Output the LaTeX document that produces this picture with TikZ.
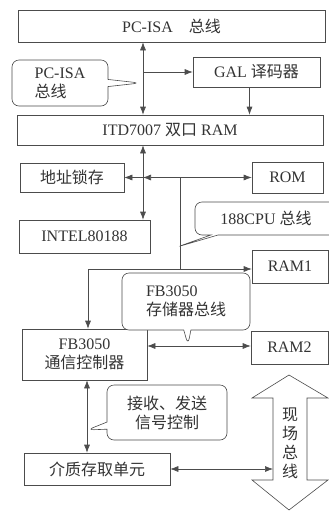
\documentclass[tikz,border=0pt]{standalone}
\usepackage{fontspec}
\setmainfont{Liberation Serif}
\newfontfamily\cjk{Noto Sans CJK SC}
\usepackage{tikz}
\usetikzlibrary{arrows.meta, shapes.callouts}
\tikzset{
  box/.style={draw=black!70, line width=0.6pt, inner sep=1pt, text=black!80,
    font=\fontsize{16}{19}\selectfont},
  bubble/.style={rectangle callout, rounded corners=7pt, draw=black!70, line width=0.6pt,
    fill=white, text=black!80, align=left, font=\fontsize{16}{19}\selectfont},
  link/.style={draw=black!70, line width=0.6pt},
  arrow/.style={link, -{Latex[length=8pt,width=6pt]}},
  dual/.style={link, {Latex[length=8pt,width=6pt]}-{Latex[length=8pt,width=6pt]}}
}

\begin{document}
\begin{tikzpicture}[x=1pt, y=-1pt]
		\useasboundingbox (0,0) rectangle (329,512);
		% 模块
		\node[box, minimum width=307, minimum height=32] (isa) at (171.5,26) {PC-ISA\quad{\cjk 总线}};
		\node[box, minimum width=127, minimum height=30] (gal) at (256.5,72) {GAL {\cjk 译码器}};
		\node[box, minimum width=306, minimum height=30] (itd) at (170,130) {ITD7007 {\cjk 双口} RAM};
		\node[box, minimum width=104, minimum height=29] (latch) at (72,177.5) {\cjk 地址锁存};
		\node[box, minimum width=71, minimum height=31] (rom) at (287.5,177.5) {ROM};
		\node[box, minimum width=131, minimum height=33] (intel) at (84.5,236.5) {INTEL80188};
		\node[box, minimum width=76, minimum height=33] (ram1) at (290,266.5) {RAM1};
		\node[box, minimum width=125, minimum height=51, align=center] (fbc) at (84.5,354.5) {FB3050\\{\cjk 通信控制器}};
		\node[box, minimum width=77, minimum height=33] (ram2) at (289.5,347.5) {RAM2};
		\node[box, minimum width=146, minimum height=32] (media) at (97,469) {\cjk 介质存取单元};
		% 总线节点
		\coordinate (j1) at (143,72);
		\coordinate (j2) at (143,177.5);
		\coordinate (j3) at (180,177.5);
		\coordinate (j4) at (180,269);
		\coordinate (j5) at (88,269);
		\coordinate (j6) at (188,346);
		\coordinate (j7) at (87,430);
		\coordinate (fb) at (273,468);
		% 连线
		\draw[dual] (j1 |- isa.south) -- (j1 |- itd.north);
		\draw[arrow] (j1) -- (gal.west);
		\draw[arrow] ([xshift=-7pt]gal.south) -- ([xshift=-7pt]gal.south |- itd.north);
		\draw[dual] (j2 |- itd.south) -- (j2 |- intel.north);
		\draw[arrow] (j2) -- (latch.east);
		\draw[dual] (j2) -- (rom.west);
		\draw[link] (j3) -- (j4) -- (j5);
		\draw[arrow] (j5) -- (j5 -| ram1.west);
		\draw[arrow] (j5) -- (j5 |- fbc.north);
		\draw[dual] (j6 -| fbc.east) -- (j6 -| ram2.west);
		\draw[dual] (j7 |- fbc.south) -- (j7 |- media.north);
		\draw[dual] (media.east) -- (media.east -| fb);
		% 说明框
		\node[bubble, minimum width=96, minimum height=46, callout absolute pointer={(140,83)}] (c1) at (60,83) {PC-ISA\\{\cjk 总线}};
		\node[bubble, minimum width=142, minimum height=33, callout absolute pointer={(177,247)}] (c2) at (266,218.5) {188CPU {\cjk 总线}};
		\node[bubble, minimum width=128, minimum height=57, callout absolute pointer={(188,345)}] (c3) at (186,301.5) {FB3050\\{\cjk 存储器总线}};
		\node[bubble, minimum width=120, minimum height=55, align=center, callout absolute pointer={(87,430)}] (c4) at (167,412.5) {\cjk 接收、发送\\ \cjk 信号控制};
		% 现场总线
		\draw[link, fill=white] (289,375) -- (328,398) -- (307,398) -- (307,480) -- (328,480)
		  -- (289,510) -- (252,480) -- (273,480) -- (273,398) -- (252,398) -- cycle;
		\node[text=black!80, align=center, font=\cjk\fontsize{16}{19}\selectfont] (fbtext) at (290,443) {现\\场\\总\\线};
	\end{tikzpicture}
\end{document}
